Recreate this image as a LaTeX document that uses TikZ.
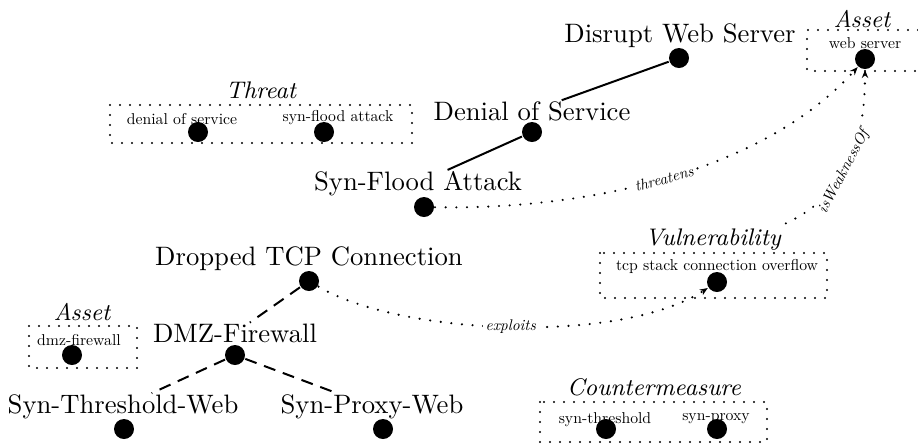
\documentclass[tikz,border=0pt]{standalone}
\usepackage{fontspec}
\usetikzlibrary{arrows.meta}

\newfontfamily\itemrm{lmroman10-regular.otf}
\newfontfamily\itemit{lmroman10-italic.otf}

\tikzset{every picture/.style={line width=0.75pt}}
\tikzset{
  blob/.style={circle,fill=black,inner sep=0pt,minimum size=7.5pt},
  goal/.style={inner sep=0pt,anchor=base},
  item/.style={inner sep=0pt,anchor=base,font=\itemrm\fontsize{5.9}{7}\selectfont},
  boxtitle/.style={inner sep=1.5pt,anchor=base,font=\fontsize{9}{11}\selectfont\itshape},
  boxline/.style={line width=0.9pt,dash pattern=on 0pt off 3.75pt,line cap=round},
  relation/.style={line width=0.9pt,dash pattern=on 0pt off 4pt,line cap=round,-{Stealth[length=3pt,width=2.4pt]}},
  rellabel/.style={fill=white,inner sep=1pt,font=\itemit\fontsize{5.8}{7}\selectfont},
  refines/.style={dash pattern=on 4.5pt off 3pt}
}

\begin{document}
\begin{tikzpicture}[x=0.375pt,y=0.375pt,yscale=-1,xscale=1]
\useasboundingbox (0,0) rectangle (918,446);

% Goal Nodes
\node[goal] (disrupt) at (680,42) {Disrupt Web Server};
\node[blob] (disrupt-d) at (679,58) {};
\node[goal] (denial) at (532,120) {Denial of Service};
\node[blob] (denial-d) at (532,132) {};
\node[goal] (synflood) at (418,190) {Syn-Flood Attack};
\node[blob] (synflood-d) at (424,207) {};
\node[goal] (dropped) at (309,265) {Dropped TCP Connection};
\node[blob] (dropped-d) at (309,281) {};
\node[goal] (dmz) at (235,342) {DMZ-Firewall};
\node[blob] (dmz-d) at (235,355) {};
\node[goal] (synthres) at (123,413) {Syn-Threshold-Web};
\node[blob] (synthres-d) at (124,429) {};
\node[goal] (synproxy) at (372,413) {Syn-Proxy-Web};
\node[blob] (synproxy-d) at (383,429) {};

%Shape: Threat box
\draw[boxline] (110,105) rectangle (412,143);
\node[boxtitle] (threat) at (261,98) {Threat};
\node[item] (dos) at (182,124) {denial of service};
\node[blob] (dos-d) at (198,132) {};
\node[item] (sfa) at (338,121) {syn-flood attack};
\node[blob] (sfa-d) at (324,132) {};

%Shape: Asset box (top)
\draw[boxline] (918,30) -- (807,30) -- (807,71) -- (918,71);
\node[boxtitle] (asset-a) at (862,27) {Asset};
\node[item] (websrv) at (865,48) {web server};
\node[blob] (websrv-d) at (865,59) {};

%Shape: Vulnerability box
\draw[boxline] (600,253) rectangle (827,298);
\node[boxtitle] (vuln) at (713,245) {Vulnerability};
\node[item] (tcp) at (717,270) {tcp stack connection overflow};
\node[blob] (tcp-d) at (717,282) {};

%Shape: Asset box (left)
\draw[boxline] (29,326) rectangle (137,368);
\node[boxtitle] (asset-b) at (82,320) {Asset};
\node[item] (dmzfw) at (79,345) {dmz-firewall};
\node[blob] (dmzfw-d) at (72,355) {};

%Shape: Countermeasure box
\draw[boxline] (540,402) rectangle (767,442);
\node[boxtitle] (cm) at (654,395) {Countermeasure};
\node[item] (sthr) at (605,423) {syn-threshold};
\node[blob] (sthr-d) at (606,429) {};
\node[item] (sprx) at (716,420) {syn-proxy};
\node[blob] (sprx-d) at (717,429) {};

%Straight Lines
\draw (disrupt-d) -- (denial);
\draw (denial-d) -- (synflood);
\draw[refines] (dropped-d) -- (dmz);
\draw[refines] (dmz-d) -- (synthres);
\draw[refines] (dmz-d) -- (synproxy);

%Curve Lines
\draw[relation] (synflood-d) .. controls (580,210) and (760,175) .. node[rellabel,rotate=15] {threatens} (websrv-d);
\draw[relation] (dropped-d) .. controls (400,335) and (620,345) .. node[rellabel] {exploits} (tcp-d);
\draw[relation] (vuln.north east) .. controls (835,200) and (865,160) .. node[rellabel,rotate=62] {isWeaknessOf} (websrv-d);

\end{tikzpicture}
\end{document}
